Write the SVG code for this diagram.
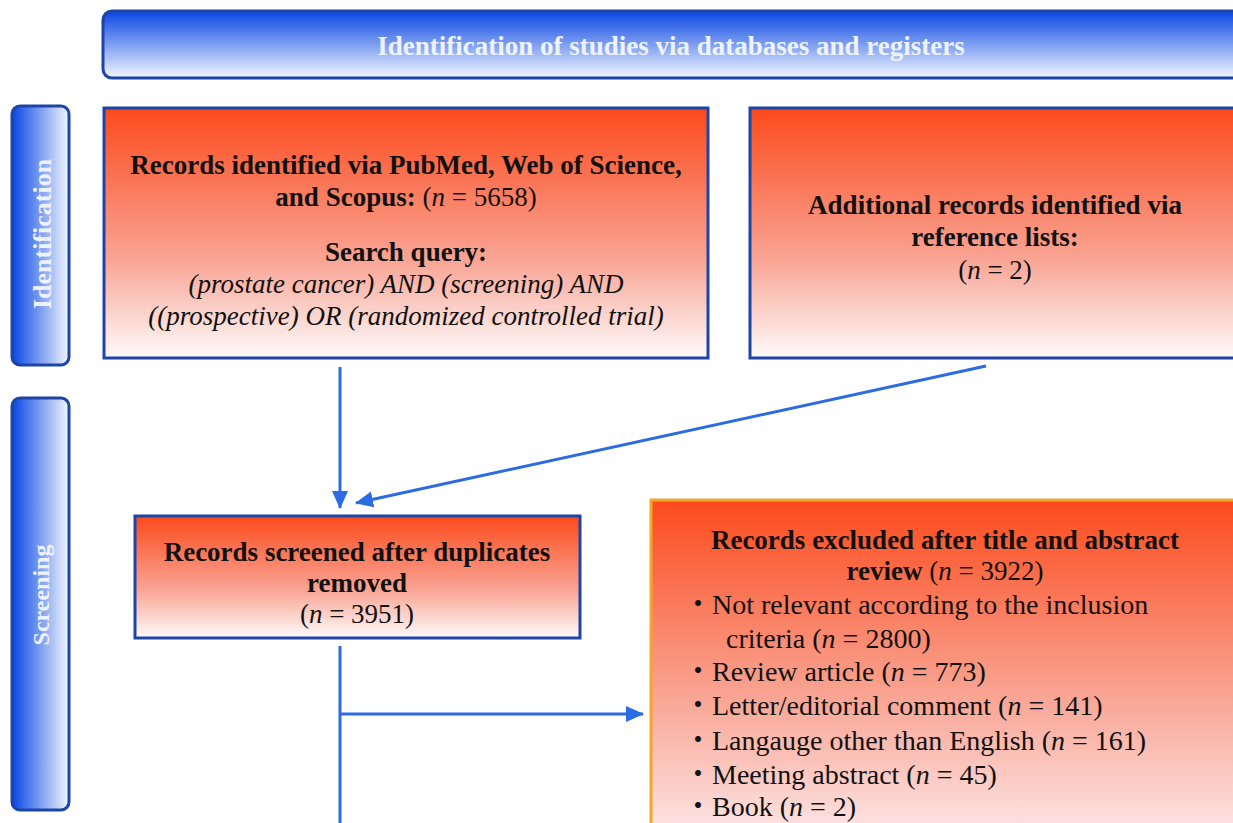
<svg xmlns="http://www.w3.org/2000/svg" width="1233" height="823" viewBox="0 0 1233 823">
<style>
text{font-family:"Liberation Serif","Noto Sans CJK JP",serif;fill:#111;font-size:27px}
.b{font-weight:bold}
.i{font-style:italic}
.li{font-size:28px}
.lab{fill:#eef3fb;font-weight:bold}
.box{stroke:#1f44a8;stroke-width:3}
.ex{stroke:#f4a52c;stroke-width:3}
.con{stroke:#2b6be3;stroke-width:3;fill:none}
</style>
<defs>
<linearGradient id="gBanner" x1="0" y1="0" x2="0" y2="1">
<stop offset="0" stop-color="#0846e4"/><stop offset="1" stop-color="#f3f7fd"/>
</linearGradient>
<linearGradient id="gSide" x1="0" y1="0" x2="1" y2="0">
<stop offset="0" stop-color="#0846e4"/><stop offset="1" stop-color="#f3f7fd"/>
</linearGradient>
<linearGradient id="gRed" x1="0" y1="0" x2="0" y2="1">
<stop offset="0" stop-color="#fc4a1c"/><stop offset="0.6" stop-color="#f9a393"/><stop offset="1" stop-color="#fefafa"/>
</linearGradient>
<linearGradient id="gRed2" x1="0" y1="0" x2="0" y2="1">
<stop offset="0" stop-color="#fc4a1c"/><stop offset="0.6" stop-color="#f9a898"/><stop offset="1" stop-color="#fde8e8"/>
</linearGradient>
<marker id="arrL" markerWidth="18" markerHeight="18" refX="17" refY="9" orient="auto" markerUnits="userSpaceOnUse" viewBox="0 0 18 18">
<path d="M0,1 L18,9 L0,17 z" fill="#2b6be3"/>
</marker>
</defs>
<rect width="1233" height="823" fill="#fff"/>

<g id="banner">
<rect x="103" y="11" width="1140" height="67" rx="9" fill="url(#gBanner)" stroke="#1f44a8" stroke-width="3"/>
<text x="671" y="55" text-anchor="middle" class="lab">Identification of studies via databases and registers</text>
</g>

<g id="side-identification">
<rect x="12" y="106" width="57" height="259" rx="8" fill="url(#gSide)" stroke="#1f44a8" stroke-width="3"/>
<text transform="translate(51,234) rotate(-90)" text-anchor="middle" class="lab" style="font-size:26px">Identification</text>
</g>

<g id="side-screening">
<rect x="12" y="398" width="57" height="412" rx="8" fill="url(#gSide)" stroke="#1f44a8" stroke-width="3"/>
<text transform="translate(49,595) rotate(-90)" text-anchor="middle" class="lab" style="font-size:24px">Screening</text>
</g>

<g id="box-db">
<rect x="104" y="108" width="604" height="250" fill="url(#gRed)" class="box"/>
<text x="406" y="174" text-anchor="middle" class="b">Records identified via PubMed, Web of Science,</text>
<text x="406" y="206" text-anchor="middle"><tspan class="b">and Scopus:</tspan> (<tspan class="i">n</tspan> = 5658)</text>
<text x="406" y="261" text-anchor="middle" class="b">Search query:</text>
<text x="406" y="293" text-anchor="middle" class="i">(prostate cancer) AND (screening) AND</text>
<text x="406" y="325" text-anchor="middle" class="i">((prospective) OR (randomized controlled trial)</text>
</g>

<g id="box-ref">
<rect x="750" y="108" width="493" height="250" fill="url(#gRed)" class="box"/>
<text x="995" y="214" text-anchor="middle" class="b">Additional records identified via</text>
<text x="995" y="246" text-anchor="middle" class="b">reference lists:</text>
<text x="995" y="279" text-anchor="middle">(<tspan class="i">n</tspan> = 2)</text>
</g>

<g id="box-screened">
<rect x="135" y="516" width="445" height="122" fill="url(#gRed)" class="box"/>
<text x="357" y="561" text-anchor="middle" class="b">Records screened after duplicates</text>
<text x="357" y="592" text-anchor="middle" class="b">removed</text>
<text x="357" y="623" text-anchor="middle">(<tspan class="i">n</tspan> = 3951)</text>
</g>

<g id="box-excluded">
<rect x="651" y="500" width="600" height="340" fill="url(#gRed2)" class="ex"/>
<text x="945" y="549" text-anchor="middle" class="b">Records excluded after title and abstract</text>
<text x="945" y="580" text-anchor="middle"><tspan class="b">review</tspan> (<tspan class="i">n</tspan> = 3922)</text>
<text x="684" y="614" class="li">・Not relevant according to the inclusion</text>
<text x="726" y="648" class="li">criteria (<tspan class="i">n</tspan> = 2800)</text>
<text x="684" y="681" class="li">・Review article (<tspan class="i">n</tspan> = 773)</text>
<text x="684" y="715" class="li">・Letter/editorial comment (<tspan class="i">n</tspan> = 141)</text>
<text x="684" y="750" class="li">・Langauge other than English (<tspan class="i">n</tspan> = 161)</text>
<text x="684" y="784" class="li">・Meeting abstract (<tspan class="i">n</tspan> = 45)</text>
<text x="684" y="816" class="li">・Book (<tspan class="i">n</tspan> = 2)</text>
</g>

<g id="connectors">
<line x1="340" y1="367" x2="340" y2="508" class="con" marker-end="url(#arrL)"/>
<line x1="986" y1="366" x2="356" y2="503" class="con" marker-end="url(#arrL)"/>
<line x1="340" y1="646" x2="340" y2="823" class="con"/>
<line x1="340" y1="714" x2="643" y2="714" class="con" marker-end="url(#arrL)"/>
</g>
</svg>
